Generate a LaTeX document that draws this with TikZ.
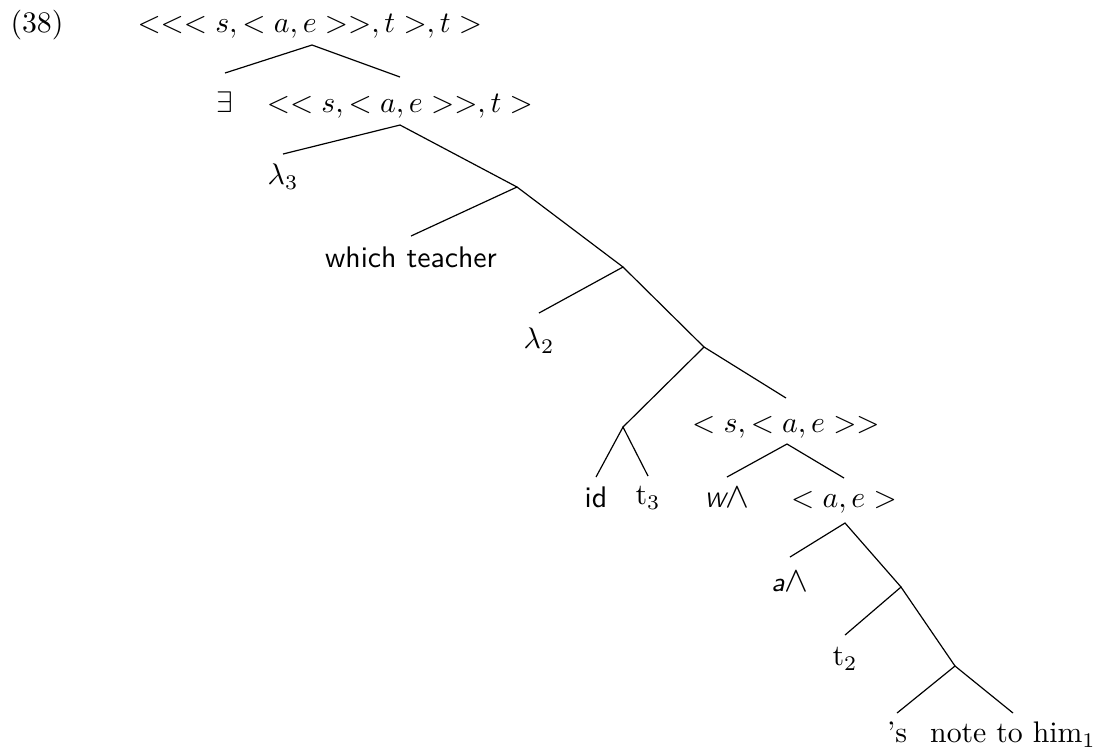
\documentclass[tikz,border=0pt]{standalone}
\begin{document}
\begin{tikzpicture}[x=0.3356pt,y=-0.3356pt,
  lab/.style={inner sep=0pt,anchor=north},
  br/.style={line width=0.4pt}]
\useasboundingbox (0,0) rectangle (1102,751);
% example number and root
\node[anchor=base,inner sep=0pt] (num) at (37,32) {(38)};
\node[anchor=base,inner sep=0pt] (root) at (310,32) {$<<< s, < a, e >>, t >, t >$};
\coordinate (r) at (312,45);
% level 1
\node[lab,text height=13.09pt] (ex) at (225,73) {$\exists$};
\node[lab,text height=11.75pt] (n1) at (400,77) {$<< s, < a, e >>, t >$};
\coordinate (a1) at (400,125);
\node[lab,text height=10.07pt] (l3) at (283,154) {$\lambda_3$};
\coordinate (b1) at (517,187);
\node[lab,text height=10.4pt] (wt) at (411,236) {\textsf{which teacher}};
\coordinate (b2) at (623,267);
\node[lab,text height=11.75pt] (l2) at (539,313) {$\lambda_2$};
\coordinate (b3) at (704,347);
\coordinate (b4) at (623,427);
\node[lab,text height=11.4pt] (n5) at (786,398) {$< s, < a, e >>$};
\node[lab,text height=10.07pt] (id) at (596,477) {\textsf{id}};
\node[lab,text height=9.4pt] (t3) at (648,476) {$\mathrm{t}_3$};
\coordinate (a5) at (787,444);
\node[lab,text height=10.07pt] (w) at (727,477) {{\scriptsize\sffamily\itshape W}{\large$\wedge$}};
\node[lab,text height=9.73pt] (n7) at (844,478) {$< a, e >$};
\coordinate (a7) at (845,523);
\node[lab,text height=11.4pt] (aw) at (790,557) {{\sffamily\itshape\small a}{\large$\wedge$}};
\coordinate (b5) at (901,587);
\node[lab,text height=10.07pt] (t2) at (845,635) {$\mathrm{t}_2$};
\coordinate (b6) at (955,666);
\node[lab,text height=9.73pt] (s) at (897,713) {'s};
\node[lab,text height=9.73pt] (note) at (1013,713) {note to him$_1$};
% connectors
\draw[br] (ex.north) -- (r) -- (n1.north);
\draw[br] (l3.north) -- (a1) -- (b1);
\draw[br] (wt.north) -- (b1) -- (b2);
\draw[br] (l2.north) -- (b2) -- (b3);
\draw[br] (b4) -- (b3) -- (n5.north);
\draw[br] (id.north) -- (b4) -- (t3.north);
\draw[br] (w.north) -- (a5) -- (n7.north);
\draw[br] (aw.north) -- (a7) -- (b5);
\draw[br] (t2.north) -- (b5) -- (b6);
\draw[br] (s.north) -- (b6) -- (note.north);
\end{tikzpicture}
\end{document}
